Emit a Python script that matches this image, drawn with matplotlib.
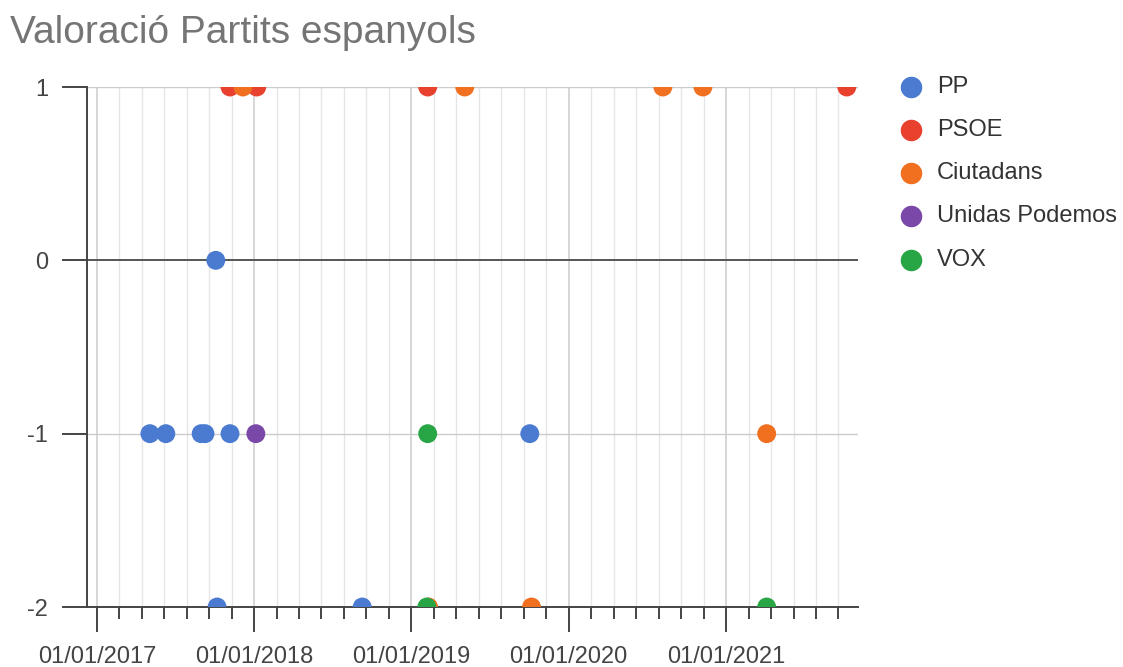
import matplotlib
matplotlib.use("Agg")
import matplotlib.pyplot as plt
import matplotlib.dates as mdates
from matplotlib.lines import Line2D
import numpy as np
import datetime as dt

# ---- data ----
series_names = ["PP", "PSOE", "Ciutadans", "Unidas Podemos", "VOX"]
colors = ["#4a7bd0", "#e8412d", "#f07020", "#7a48a8", "#28a646"]

pp_dates = ["2017-05-04", "2017-06-10", "2017-08-31", "2017-09-09", "2017-10-04",
            "2017-11-06", "2017-10-07", "2018-09-09", "2019-10-03"]
pp_vals = [-1, -1, -1, -1, 0, -1, -2, -2, -1]

psoe_dates = ["2017-11-06", "2018-01-07", "2019-02-08", "2021-10-08"]
psoe_vals = [1, 1, 1, 1]

cs_dates = ["2017-12-06", "2019-05-05", "2020-08-07", "2020-11-08", "2021-04-05",
            "2019-02-10", "2019-10-07"]
cs_vals = [1, 1, 1, 1, -1, -2, -2]

up_dates = ["2018-01-05"]
up_vals = [-1]

vox_dates = ["2019-02-08", "2019-02-06", "2021-04-05"]
vox_vals = [-1, -2, -2]

x_tick_labels = ["01/01/2017", "01/01/2018", "01/01/2019", "01/01/2020", "01/01/2021"]
y_ticks = [1, 0, -1, -2]

all_dates = [pp_dates, psoe_dates, cs_dates, up_dates, vox_dates]
all_vals = [pp_vals, psoe_vals, cs_vals, up_vals, vox_vals]

# ---- figure ----
W, H = 1123, 667
fig = plt.figure(figsize=(W / 100, H / 100), dpi=100)
plt.rcParams["font.family"] = ["Liberation Sans", "DejaVu Sans"]

ax = fig.add_axes([87 / W, (H - 607) / H, (858 - 87) / W, (607 - 87) / H])

def to_num(ds):
    return mdates.datestr2num(ds)

for name, c, ds, vs in zip(series_names, colors, all_dates, all_vals):
    ax.scatter(to_num(ds), vs, s=185, color=c, edgecolors="none", zorder=3, label=name)

ax.set_xlim(mdates.datestr2num("2016-12-09"), mdates.datestr2num("2021-11-03"))
ax.set_ylim(-2, 1)

# major ticks at Jan 1 of each year
major = [mdates.date2num(dt.datetime(int(l[-4:]), 1, 1)) for l in x_tick_labels]
minor = []
for y in range(2017, 2022):
    a = mdates.date2num(dt.datetime(y, 1, 1))
    b = mdates.date2num(dt.datetime(y + 1, 1, 1))
    for k in range(1, 7):
        minor.append(a + (b - a) * k / 7)
xmax = ax.get_xlim()[1]
minor = [m for m in minor if m < xmax]

ax.set_xticks(major)
ax.set_xticklabels(x_tick_labels)
ax.set_xticks(minor, minor=True)
ax.set_yticks(y_ticks)
ax.set_yticklabels([str(v) for v in y_ticks])

for s in ["top", "right"]:
    ax.spines[s].set_visible(False)
for s in ["left", "bottom"]:
    ax.spines[s].set_color("#444444")
    ax.spines[s].set_linewidth(1.4)

ax.tick_params(axis="x", which="major", length=18, width=1.4, color="#444444",
               labelsize=17, labelcolor="#444444", pad=10)
ax.tick_params(axis="x", which="minor", length=8.5, width=1.4, color="#444444")
ax.tick_params(axis="y", which="major", length=18, width=1.4, color="#444444",
               labelsize=17, labelcolor="#444444", pad=10)

# gridlines
for m in minor:
    ax.axvline(m, color="#e6e6e6", lw=1.0, zorder=0)
for m in major:
    ax.axvline(m, color="#d0d0d0", lw=1.2, zorder=0)
for v in y_ticks:
    if v == 0:
        ax.axhline(v, color="#555555", lw=1.4, zorder=1)
    elif v != -2:
        ax.axhline(v, color="#cccccc", lw=1.0, zorder=1)

# title
fig.text(10 / W, 1 - 43 / H, "Valoració Partits espanyols", fontsize=28,
         color="#757575", ha="left", va="baseline")

# legend (manual)
rows = [87, 130, 173, 216, 260]
for name, c, r in zip(series_names, colors, rows):
    yy = 1 - r / H
    fig.add_artist(Line2D([911 / W], [yy], marker="o", markersize=15.5, color=c,
                          markeredgewidth=0, linestyle="none", transform=fig.transFigure))
    fig.text(937 / W, yy, name, fontsize=17, color="#333333", ha="left", va="center")

fig.savefig("out.png", dpi=100)
